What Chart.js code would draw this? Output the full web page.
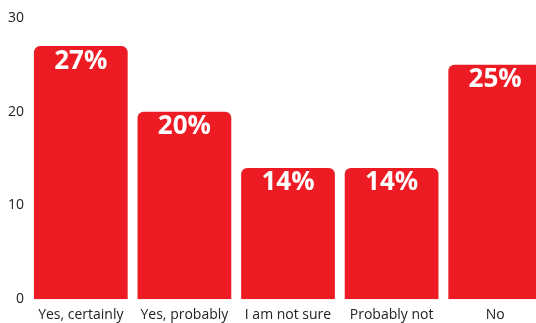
<!DOCTYPE html>
<html>
<head>
<meta charset="utf-8">
<script src="https://cdn.jsdelivr.net/npm/chart.js@4"></script>
<style>
  html, body { margin: 0; padding: 0; overflow: hidden; background: #fff; }
  #wrap { width: 547px; height: 323px; position: relative; }
</style>
</head>
<body>
<div id="wrap"><canvas id="myChart"></canvas></div>
<script>
var categories = ['Yes, certainly', 'Yes, probably', 'I am not sure', 'Probably not', 'No'];
var values = [27, 20, 14, 14, 25];
var yTicks = [0, 10, 20, 30];

// white percentage labels inside the top of each bar
var barLabels = {
  id: 'barLabels',
  afterDatasetsDraw: function(chart) {
    var ctx = chart.ctx;
    var meta = chart.getDatasetMeta(0);
    ctx.save();
    ctx.fillStyle = '#ffffff';
    ctx.font = 'bold 26px "Open Sans"';
    ctx.textAlign = 'center';
    ctx.textBaseline = 'top';
    meta.data.forEach(function(bar, i) {
      ctx.fillText(values[i] + '%', bar.x, bar.y + 2);
    });
    ctx.restore();
  }
};

Chart.defaults.font.family = '"Open Sans"';
Chart.defaults.font.size = 14;
Chart.defaults.color = '#222';

var ctx = document.getElementById('myChart').getContext('2d');
var myChart = new Chart(ctx, {
  type: 'bar',
  data: {
    labels: categories,
    datasets: [{
      data: values,
      backgroundColor: '#ED1C24',
      borderRadius: 6,
      barPercentage: 0.905,
      categoryPercentage: 1
    }]
  },
  options: {
    responsive: true,
    maintainAspectRatio: false,
    animation: false,
    layout: { padding: { top: 18, left: 3, right: 0, bottom: -7 } },
    plugins: { legend: { display: false }, tooltip: { enabled: false } },
    scales: {
      x: {
        grid: { display: false, drawTicks: false },
        border: { display: false },
        ticks: { padding: 7 }
      },
      y: {
        min: 0,
        max: 30,
        afterBuildTicks: function(axis) {
          axis.ticks = yTicks.map(function(v) { return { value: v }; });
        },
        grid: { display: false, drawTicks: false },
        border: { display: false },
        ticks: { padding: 5 }
      }
    }
  },
  plugins: [barLabels]
});
</script>
</body>
</html>
